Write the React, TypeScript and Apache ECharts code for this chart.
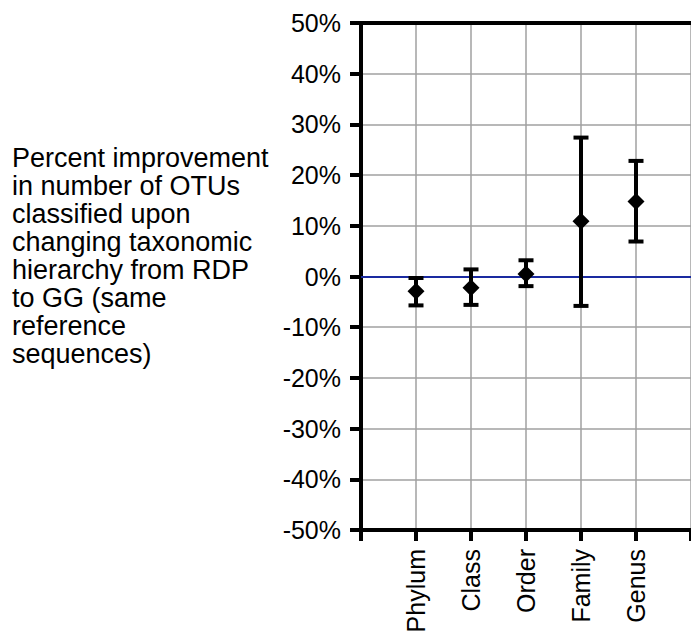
import React, { useEffect, useRef } from "react";
import * as echarts from "echarts";

const categories = ["Phylum", "Class", "Order", "Family", "Genus"];
const means = [-2.9, -2.2, 0.5, 10.9, 14.8];
const lows = [-5.7, -5.6, -1.9, -5.8, 6.9];
const highs = [-0.3, 1.4, 3.2, 27.4, 22.8];
const yTicks = [-50, -40, -30, -20, -10, 0, 10, 20, 30, 40, 50];
const sideLabel = [
  "Percent improvement",
  "in number of OTUs",
  "classified upon",
  "changing taxonomic",
  "hierarchy from RDP",
  "to GG (same",
  "reference",
  "sequences)",
];

const FONT = "'Liberation Sans', Arial, Helvetica, sans-serif";

export default function App() {
  const ref = useRef<HTMLDivElement>(null);
  useEffect(() => {
    if (!ref.current) return;
    const chart = echarts.init(ref.current, undefined, { renderer: "svg" });
    const pointData = categories.map((_, i) => [i + 1, means[i]]);
    const errData = categories.map((_, i) => [i + 1, lows[i], highs[i]]);
    chart.setOption({
      animation: false,
      backgroundColor: "#ffffff",
      textStyle: { fontFamily: FONT },
      grid: { left: 361, top: 23, bottom: 106, right: -7.5, containLabel: false },
      xAxis: [
        {
          type: "value",
          position: "bottom",
          min: 0,
          max: 6,
          interval: 1,
          axisLine: { show: true, onZero: false, lineStyle: { color: "#000", width: 4 } },
          axisTick: { show: true, inside: false, length: 11, lineStyle: { color: "#000", width: 4 } },
          splitLine: { show: true, lineStyle: { color: "#a0a0a0", width: 1.5 } },
          axisLabel: {
            rotate: 90,
            margin: 19,
            color: "#000",
            fontSize: 25,
            fontFamily: FONT,
            formatter: (v: number) => (v >= 1 && v <= categories.length ? categories[v - 1] : ""),
          },
        },
        {
          type: "value",
          position: "top",
          min: 0,
          max: 6,
          interval: 1,
          axisLine: { show: true, onZero: false, lineStyle: { color: "#000", width: 4 } },
          axisTick: { show: false },
          axisLabel: { show: false },
          splitLine: { show: false },
        },
      ],
      yAxis: {
        type: "value",
        min: yTicks[0],
        max: yTicks[yTicks.length - 1],
        interval: 10,
        axisLine: { show: true, onZero: false, lineStyle: { color: "#000", width: 4 } },
        axisTick: { show: true, inside: false, length: 11, lineStyle: { color: "#000", width: 4 } },
        splitLine: { show: true, lineStyle: { color: "#a0a0a0", width: 1.5 } },
        axisLabel: {
          margin: 20,
          color: "#000",
          fontSize: 25,
          fontFamily: FONT,
          formatter: (v: number) => `${v}%`,
        },
      },
      graphic: [
        {
          type: "text",
          left: 12,
          top: 144,
          style: {
            text: sideLabel.join("\n"),
            fontSize: 27,
            lineHeight: 28,
            fontFamily: FONT,
            fill: "#000",
          },
        },
      ],
      series: [
        {
          type: "custom",
          xAxisIndex: 0,
          data: errData,
          renderItem: (params: any, api: any) => {
            const x = api.value(0);
            const lo = api.coord([x, api.value(1)]);
            const hi = api.coord([x, api.value(2)]);
            const hw = 7.5;
            const style = { stroke: "#000", lineWidth: 4 };
            return {
              type: "group",
              children: [
                { type: "line", shape: { x1: lo[0], y1: lo[1], x2: hi[0], y2: hi[1] }, style },
                { type: "line", shape: { x1: lo[0] - hw, y1: lo[1], x2: lo[0] + hw, y2: lo[1] }, style },
                { type: "line", shape: { x1: hi[0] - hw, y1: hi[1], x2: hi[0] + hw, y2: hi[1] }, style },
              ],
            };
          },
          z: 3,
        },
        {
          type: "scatter",
          xAxisIndex: 0,
          data: pointData,
          symbol: "diamond",
          symbolSize: [17, 17],
          itemStyle: { color: "#000", opacity: 1 },
          z: 4,
          markLine: {
            silent: true,
            symbol: "none",
            label: { show: false },
            lineStyle: { color: "#1a2aa0", width: 2, type: "solid", opacity: 1 },
            data: [{ yAxis: 0 }],
            z: 2,
          },
        },
      ],
    });
    return () => chart.dispose();
  }, []);
  return (
    <div
      ref={ref}
      style={{ position: "fixed", left: 0, top: 0, width: 691, height: 636 }}
    />
  );
}
